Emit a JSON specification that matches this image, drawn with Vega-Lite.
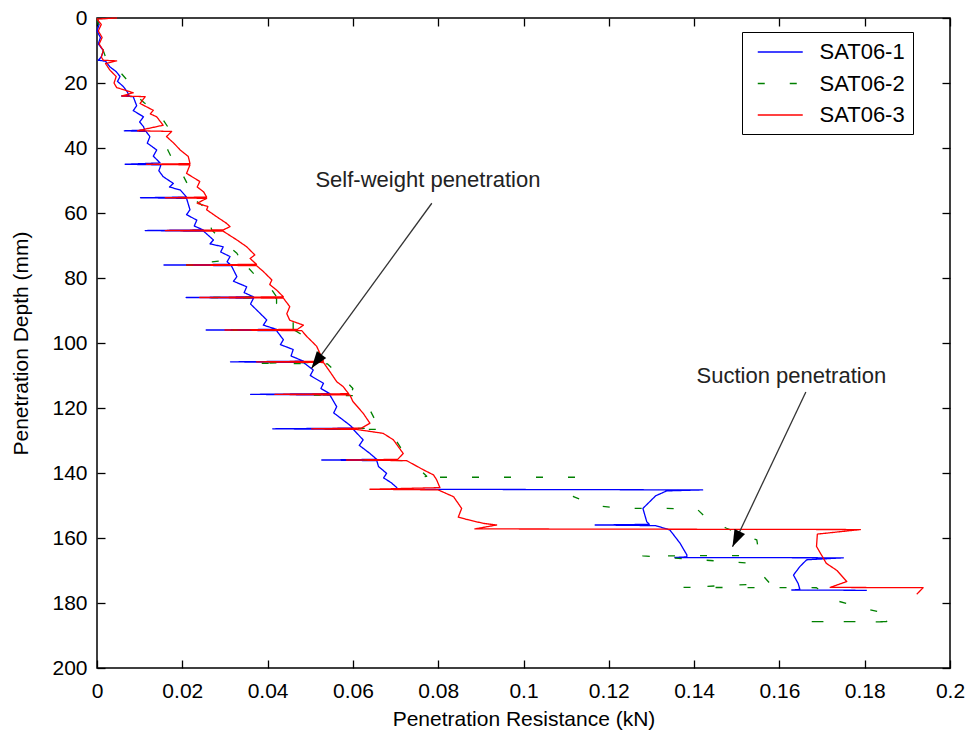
{
  "$schema": "https://vega.github.io/schema/vega-lite/v6.json",
  "width": 853,
  "height": 650,
  "autosize": "none",
  "padding": {"left": 97, "top": 18, "right": 24, "bottom": 70},
  "background": "white",
  "config": {
    "view": {"stroke": "black", "strokeWidth": 1.5},
    "font": "Liberation Sans",
    "axis": {
      "grid": false,
      "domain": false,
      "offset": -8,
      "tickColor": "black",
      "tickWidth": 1.3,
      "tickSize": 8,
      "labelFont": "Liberation Sans",
      "labelFontSize": 21,
      "labelColor": "black",
      "titleFont": "Liberation Sans",
      "titleFontSize": 21,
      "titleFontWeight": "normal",
      "titleColor": "black"
    },
    "legend": {
      "orient": "none",
      "legendX": 645,
      "legendY": 14,
      "strokeColor": "black",
      "strokeWidth": 1,
      "fillColor": "white",
      "padding": 8,
      "symbolOffset": 18.25,
      "symbolType": "M-2,0L2,0",
      "symbolSize": 506,
      "symbolStrokeWidth": 1.5,
      "symbolFillColor": "transparent",
      "labelFont": "Liberation Sans",
      "labelFontSize": 22,
      "labelColor": "black",
      "labelOffset": 27.25,
      "rowPadding": 8.5,
      "cornerRadius": 0
    }
  },
  "resolve": {"axis": {"x": "independent", "y": "independent"}},
  "layer": [
    {
      "data": {"values": [
        {"series":"SAT06-1","x":0,"d":0},{"series":"SAT06-1","x":0.0005,"d":2},{"series":"SAT06-1","x":0,"d":4},{"series":"SAT06-1","x":0.0008,"d":6},{"series":"SAT06-1","x":0.0003,"d":8},{"series":"SAT06-1","x":0.0015,"d":10},{"series":"SAT06-1","x":0.001,"d":12},{"series":"SAT06-1","x":0.0003,"d":13},{"series":"SAT06-1","x":0.002,"d":13.3},{"series":"SAT06-1","x":0.003,"d":15},{"series":"SAT06-1","x":0.0045,"d":16.5},{"series":"SAT06-1","x":0.0054,"d":18},{"series":"SAT06-1","x":0.0048,"d":19.5},{"series":"SAT06-1","x":0.0061,"d":21},{"series":"SAT06-1","x":0.007,"d":22.5},{"series":"SAT06-1","x":0.0075,"d":23.8},{"series":"SAT06-1","x":0.0058,"d":24},{"series":"SAT06-1","x":0.0085,"d":24.2},{"series":"SAT06-1","x":0.0093,"d":27},{"series":"SAT06-1","x":0.0085,"d":28.5},{"series":"SAT06-1","x":0.0109,"d":30.4},{"series":"SAT06-1","x":0.01,"d":32},{"series":"SAT06-1","x":0.0109,"d":33.4},{"series":"SAT06-1","x":0.0112,"d":34.5},{"series":"SAT06-1","x":0.0064,"d":34.7},{"series":"SAT06-1","x":0.0115,"d":34.9},{"series":"SAT06-1","x":0.0124,"d":36.5},{"series":"SAT06-1","x":0.0118,"d":38.5},{"series":"SAT06-1","x":0.014,"d":40.6},{"series":"SAT06-1","x":0.0132,"d":42.5},{"series":"SAT06-1","x":0.0148,"d":44.6},{"series":"SAT06-1","x":0.0066,"d":45},{"series":"SAT06-1","x":0.015,"d":45.2},{"series":"SAT06-1","x":0.0145,"d":47},{"series":"SAT06-1","x":0.0155,"d":48.8},{"series":"SAT06-1","x":0.0179,"d":50.9},{"series":"SAT06-1","x":0.017,"d":52},{"series":"SAT06-1","x":0.0195,"d":52.9},{"series":"SAT06-1","x":0.021,"d":55.1},{"series":"SAT06-1","x":0.0102,"d":55.3},{"series":"SAT06-1","x":0.021,"d":55.5},{"series":"SAT06-1","x":0.0218,"d":59},{"series":"SAT06-1","x":0.021,"d":60.5},{"series":"SAT06-1","x":0.0234,"d":62.2},{"series":"SAT06-1","x":0.0228,"d":64},{"series":"SAT06-1","x":0.0249,"d":65.2},{"series":"SAT06-1","x":0.0113,"d":65.4},{"series":"SAT06-1","x":0.025,"d":65.6},{"series":"SAT06-1","x":0.0273,"d":68.3},{"series":"SAT06-1","x":0.0265,"d":69.5},{"series":"SAT06-1","x":0.0296,"d":70.4},{"series":"SAT06-1","x":0.029,"d":72},{"series":"SAT06-1","x":0.0312,"d":73.4},{"series":"SAT06-1","x":0.0305,"d":75},{"series":"SAT06-1","x":0.0312,"d":75.8},{"series":"SAT06-1","x":0.0157,"d":76},{"series":"SAT06-1","x":0.0315,"d":76.2},{"series":"SAT06-1","x":0.0328,"d":79.6},{"series":"SAT06-1","x":0.032,"d":81},{"series":"SAT06-1","x":0.0351,"d":82.7},{"series":"SAT06-1","x":0.0345,"d":84.5},{"series":"SAT06-1","x":0.0367,"d":85.8},{"series":"SAT06-1","x":0.0209,"d":86},{"series":"SAT06-1","x":0.0367,"d":86.2},{"series":"SAT06-1","x":0.036,"d":88},{"series":"SAT06-1","x":0.0374,"d":89.8},{"series":"SAT06-1","x":0.0398,"d":92.9},{"series":"SAT06-1","x":0.039,"d":94.5},{"series":"SAT06-1","x":0.0421,"d":95.8},{"series":"SAT06-1","x":0.0256,"d":96},{"series":"SAT06-1","x":0.0421,"d":96.2},{"series":"SAT06-1","x":0.0437,"d":99},{"series":"SAT06-1","x":0.043,"d":100.5},{"series":"SAT06-1","x":0.046,"d":102},{"series":"SAT06-1","x":0.0455,"d":104},{"series":"SAT06-1","x":0.0484,"d":105.6},{"series":"SAT06-1","x":0.0313,"d":105.8},{"series":"SAT06-1","x":0.0484,"d":106},{"series":"SAT06-1","x":0.0507,"d":108.3},{"series":"SAT06-1","x":0.05,"d":110},{"series":"SAT06-1","x":0.0531,"d":112.4},{"series":"SAT06-1","x":0.0525,"d":114},{"series":"SAT06-1","x":0.0546,"d":115.6},{"series":"SAT06-1","x":0.036,"d":115.8},{"series":"SAT06-1","x":0.0546,"d":116},{"series":"SAT06-1","x":0.0562,"d":119.6},{"series":"SAT06-1","x":0.0555,"d":121.5},{"series":"SAT06-1","x":0.0577,"d":123.7},{"series":"SAT06-1","x":0.059,"d":125},{"series":"SAT06-1","x":0.0601,"d":126.2},{"series":"SAT06-1","x":0.0412,"d":126.4},{"series":"SAT06-1","x":0.0601,"d":126.6},{"series":"SAT06-1","x":0.0624,"d":129.8},{"series":"SAT06-1","x":0.0615,"d":131.5},{"series":"SAT06-1","x":0.064,"d":134},{"series":"SAT06-1","x":0.0656,"d":135.8},{"series":"SAT06-1","x":0.0527,"d":136},{"series":"SAT06-1","x":0.0656,"d":136.2},{"series":"SAT06-1","x":0.066,"d":138},{"series":"SAT06-1","x":0.0679,"d":140.1},{"series":"SAT06-1","x":0.0672,"d":141.5},{"series":"SAT06-1","x":0.069,"d":143},{"series":"SAT06-1","x":0.0703,"d":144.5},{"series":"SAT06-1","x":0.0703,"d":145},{"series":"SAT06-1","x":0.142,"d":145.2},{"series":"SAT06-1","x":0.1336,"d":145.5},{"series":"SAT06-1","x":0.131,"d":147},{"series":"SAT06-1","x":0.128,"d":150.9},{"series":"SAT06-1","x":0.1289,"d":155},{"series":"SAT06-1","x":0.1295,"d":155.8},{"series":"SAT06-1","x":0.1168,"d":156},{"series":"SAT06-1","x":0.131,"d":156.2},{"series":"SAT06-1","x":0.1343,"d":157.5},{"series":"SAT06-1","x":0.1367,"d":161.6},{"series":"SAT06-1","x":0.1383,"d":165.2},{"series":"SAT06-1","x":0.1383,"d":165.8},{"series":"SAT06-1","x":0.1355,"d":166},{"series":"SAT06-1","x":0.175,"d":166.1},{"series":"SAT06-1","x":0.1664,"d":166.7},{"series":"SAT06-1","x":0.1648,"d":168.8},{"series":"SAT06-1","x":0.1633,"d":171.4},{"series":"SAT06-1","x":0.1644,"d":174},{"series":"SAT06-1","x":0.1648,"d":175.8},{"series":"SAT06-1","x":0.1629,"d":176},{"series":"SAT06-1","x":0.1805,"d":176.1},

        {"series":"SAT06-2","x":0,"d":0},{"series":"SAT06-2","x":0.0005,"d":3},{"series":"SAT06-2","x":0.001,"d":6},{"series":"SAT06-2","x":0.0012,"d":9},{"series":"SAT06-2","x":0.002,"d":12},{"series":"SAT06-2","x":0.004,"d":13.5},{"series":"SAT06-2","x":0.005,"d":16},{"series":"SAT06-2","x":0.007,"d":19},{"series":"SAT06-2","x":0.008,"d":22},{"series":"SAT06-2","x":0.0095,"d":24.2},{"series":"SAT06-2","x":0.011,"d":26},{"series":"SAT06-2","x":0.013,"d":28},{"series":"SAT06-2","x":0.0148,"d":30},{"series":"SAT06-2","x":0.0166,"d":33.5},{"series":"SAT06-2","x":0.0175,"d":35},{"series":"SAT06-2","x":0.0166,"d":38},{"series":"SAT06-2","x":0.0166,"d":40.6},{"series":"SAT06-2","x":0.0175,"d":43},{"series":"SAT06-2","x":0.0183,"d":45.6},{"series":"SAT06-2","x":0.02,"d":48},{"series":"SAT06-2","x":0.0213,"d":51.3},{"series":"SAT06-2","x":0.0226,"d":53},{"series":"SAT06-2","x":0.022,"d":55.3},{"series":"SAT06-2","x":0.024,"d":57},{"series":"SAT06-2","x":0.026,"d":59},{"series":"SAT06-2","x":0.0262,"d":62},{"series":"SAT06-2","x":0.0269,"d":65.2},{"series":"SAT06-2","x":0.029,"d":68},{"series":"SAT06-2","x":0.0328,"d":72.4},{"series":"SAT06-2","x":0.0335,"d":74},{"series":"SAT06-2","x":0.021,"d":76},{"series":"SAT06-2","x":0.035,"d":76.2},{"series":"SAT06-2","x":0.0374,"d":79.6},{"series":"SAT06-2","x":0.041,"d":83.7},{"series":"SAT06-2","x":0.0421,"d":85.8},{"series":"SAT06-2","x":0.0241,"d":86},{"series":"SAT06-2","x":0.0421,"d":86.2},{"series":"SAT06-2","x":0.0421,"d":87.8},{"series":"SAT06-2","x":0.044,"d":90},{"series":"SAT06-2","x":0.046,"d":93.4},{"series":"SAT06-2","x":0.046,"d":95.8},{"series":"SAT06-2","x":0.032,"d":96},{"series":"SAT06-2","x":0.0465,"d":96.2},{"series":"SAT06-2","x":0.0499,"d":99},{"series":"SAT06-2","x":0.052,"d":103},{"series":"SAT06-2","x":0.0538,"d":106},{"series":"SAT06-2","x":0.0366,"d":106.2},{"series":"SAT06-2","x":0.054,"d":106.4},{"series":"SAT06-2","x":0.0581,"d":111.4},{"series":"SAT06-2","x":0.06,"d":114},{"series":"SAT06-2","x":0.0595,"d":115.8},{"series":"SAT06-2","x":0.049,"d":116},{"series":"SAT06-2","x":0.0605,"d":116.2},{"series":"SAT06-2","x":0.0636,"d":119.6},{"series":"SAT06-2","x":0.0656,"d":124.7},{"series":"SAT06-2","x":0.066,"d":126.2},{"series":"SAT06-2","x":0.052,"d":126.4},{"series":"SAT06-2","x":0.066,"d":126.6},{"series":"SAT06-2","x":0.0703,"d":130.4},{"series":"SAT06-2","x":0.0718,"d":133.4},{"series":"SAT06-2","x":0.072,"d":135.8},{"series":"SAT06-2","x":0.062,"d":136},{"series":"SAT06-2","x":0.073,"d":136.2},{"series":"SAT06-2","x":0.0757,"d":139},{"series":"SAT06-2","x":0.0773,"d":141},{"series":"SAT06-2","x":0.0757,"d":141.3},{"series":"SAT06-2","x":0.1133,"d":141.3},{"series":"SAT06-2","x":0.1125,"d":144},{"series":"SAT06-2","x":0.1117,"d":147.3},{"series":"SAT06-2","x":0.1148,"d":148.8},{"series":"SAT06-2","x":0.1172,"d":150.1},{"series":"SAT06-2","x":0.1233,"d":150.9},{"series":"SAT06-2","x":0.1328,"d":150.9},{"series":"SAT06-2","x":0.1406,"d":151},{"series":"SAT06-2","x":0.143,"d":154},{"series":"SAT06-2","x":0.1476,"d":157},{"series":"SAT06-2","x":0.1547,"d":160.6},{"series":"SAT06-2","x":0.155,"d":163},{"series":"SAT06-2","x":0.1525,"d":165.4},{"series":"SAT06-2","x":0.128,"d":165.5},{"series":"SAT06-2","x":0.1535,"d":167.8},{"series":"SAT06-2","x":0.1578,"d":174},{"series":"SAT06-2","x":0.1374,"d":175.2},{"series":"SAT06-2","x":0.1687,"d":175.3},{"series":"SAT06-2","x":0.1726,"d":179},{"series":"SAT06-2","x":0.1797,"d":181.6},{"series":"SAT06-2","x":0.1867,"d":183.7},{"series":"SAT06-2","x":0.1851,"d":185.7},{"series":"SAT06-2","x":0.1652,"d":185.7},{"series":"SAT06-2","x":0.1851,"d":185.8},

        {"series":"SAT06-3","x":0.0047,"d":0},{"series":"SAT06-3","x":0,"d":0.3},{"series":"SAT06-3","x":0.001,"d":2},{"series":"SAT06-3","x":0.0003,"d":4},{"series":"SAT06-3","x":0.0012,"d":6},{"series":"SAT06-3","x":0.0005,"d":8},{"series":"SAT06-3","x":0.0015,"d":10},{"series":"SAT06-3","x":0.001,"d":12},{"series":"SAT06-3","x":0.0015,"d":13},{"series":"SAT06-3","x":0.0046,"d":13.2},{"series":"SAT06-3","x":0.002,"d":14},{"series":"SAT06-3","x":0.003,"d":16},{"series":"SAT06-3","x":0.0045,"d":18},{"series":"SAT06-3","x":0.004,"d":20},{"series":"SAT06-3","x":0.0046,"d":21.4},{"series":"SAT06-3","x":0.0085,"d":23},{"series":"SAT06-3","x":0.0058,"d":24},{"series":"SAT06-3","x":0.0113,"d":24.2},{"series":"SAT06-3","x":0.0101,"d":26.3},{"series":"SAT06-3","x":0.0132,"d":28.4},{"series":"SAT06-3","x":0.0125,"d":29.5},{"series":"SAT06-3","x":0.014,"d":30.4},{"series":"SAT06-3","x":0.0155,"d":33},{"series":"SAT06-3","x":0.0095,"d":34.7},{"series":"SAT06-3","x":0.0175,"d":34.9},{"series":"SAT06-3","x":0.0163,"d":36.5},{"series":"SAT06-3","x":0.018,"d":38.5},{"series":"SAT06-3","x":0.0195,"d":40.6},{"series":"SAT06-3","x":0.0214,"d":42.6},{"series":"SAT06-3","x":0.0218,"d":44.8},{"series":"SAT06-3","x":0.0116,"d":45},{"series":"SAT06-3","x":0.0218,"d":45.2},{"series":"SAT06-3","x":0.021,"d":47.8},{"series":"SAT06-3","x":0.0241,"d":50.3},{"series":"SAT06-3","x":0.0235,"d":52},{"series":"SAT06-3","x":0.025,"d":53.5},{"series":"SAT06-3","x":0.0257,"d":55.1},{"series":"SAT06-3","x":0.016,"d":55.3},{"series":"SAT06-3","x":0.0257,"d":55.5},{"series":"SAT06-3","x":0.0235,"d":57},{"series":"SAT06-3","x":0.026,"d":58},{"series":"SAT06-3","x":0.0257,"d":59},{"series":"SAT06-3","x":0.028,"d":61.1},{"series":"SAT06-3","x":0.0304,"d":63.2},{"series":"SAT06-3","x":0.0312,"d":64.2},{"series":"SAT06-3","x":0.0296,"d":65.2},{"series":"SAT06-3","x":0.016,"d":65.4},{"series":"SAT06-3","x":0.0296,"d":65.6},{"series":"SAT06-3","x":0.0328,"d":68.3},{"series":"SAT06-3","x":0.0351,"d":70.4},{"series":"SAT06-3","x":0.037,"d":72.9},{"series":"SAT06-3","x":0.0359,"d":74},{"series":"SAT06-3","x":0.0374,"d":75.8},{"series":"SAT06-3","x":0.021,"d":76},{"series":"SAT06-3","x":0.0374,"d":76.2},{"series":"SAT06-3","x":0.039,"d":78},{"series":"SAT06-3","x":0.041,"d":80.6},{"series":"SAT06-3","x":0.0405,"d":82},{"series":"SAT06-3","x":0.0421,"d":83.7},{"series":"SAT06-3","x":0.0437,"d":85.8},{"series":"SAT06-3","x":0.0241,"d":86},{"series":"SAT06-3","x":0.0437,"d":86.2},{"series":"SAT06-3","x":0.0452,"d":88.8},{"series":"SAT06-3","x":0.0445,"d":91},{"series":"SAT06-3","x":0.0452,"d":93},{"series":"SAT06-3","x":0.0484,"d":94.5},{"series":"SAT06-3","x":0.047,"d":95.8},{"series":"SAT06-3","x":0.03,"d":96},{"series":"SAT06-3","x":0.048,"d":96.2},{"series":"SAT06-3","x":0.0492,"d":98},{"series":"SAT06-3","x":0.0515,"d":101},{"series":"SAT06-3","x":0.0531,"d":105.6},{"series":"SAT06-3","x":0.0374,"d":105.8},{"series":"SAT06-3","x":0.0531,"d":106},{"series":"SAT06-3","x":0.0546,"d":108.8},{"series":"SAT06-3","x":0.0562,"d":111.9},{"series":"SAT06-3","x":0.0577,"d":113.4},{"series":"SAT06-3","x":0.059,"d":115.6},{"series":"SAT06-3","x":0.0417,"d":115.8},{"series":"SAT06-3","x":0.0593,"d":116},{"series":"SAT06-3","x":0.06,"d":118},{"series":"SAT06-3","x":0.0624,"d":121.6},{"series":"SAT06-3","x":0.064,"d":124.7},{"series":"SAT06-3","x":0.062,"d":126.2},{"series":"SAT06-3","x":0.0503,"d":126.4},{"series":"SAT06-3","x":0.0609,"d":126.6},{"series":"SAT06-3","x":0.0671,"d":127.8},{"series":"SAT06-3","x":0.0695,"d":129.8},{"series":"SAT06-3","x":0.0718,"d":134},{"series":"SAT06-3","x":0.0705,"d":135.8},{"series":"SAT06-3","x":0.0585,"d":136},{"series":"SAT06-3","x":0.0726,"d":136.2},{"series":"SAT06-3","x":0.0765,"d":139},{"series":"SAT06-3","x":0.0789,"d":140.6},{"series":"SAT06-3","x":0.0796,"d":142},{"series":"SAT06-3","x":0.0804,"d":144.5},{"series":"SAT06-3","x":0.064,"d":145},{"series":"SAT06-3","x":0.08,"d":145.2},{"series":"SAT06-3","x":0.0836,"d":147.3},{"series":"SAT06-3","x":0.0855,"d":150.9},{"series":"SAT06-3","x":0.0847,"d":153.6},{"series":"SAT06-3","x":0.0867,"d":154.3},{"series":"SAT06-3","x":0.0906,"d":155.5},{"series":"SAT06-3","x":0.0937,"d":156},{"series":"SAT06-3","x":0.0886,"d":157.2},{"series":"SAT06-3","x":0.179,"d":157.4},{"series":"SAT06-3","x":0.1689,"d":158.8},{"series":"SAT06-3","x":0.1687,"d":162.6},{"series":"SAT06-3","x":0.171,"d":167.8},{"series":"SAT06-3","x":0.1735,"d":170},{"series":"SAT06-3","x":0.1758,"d":173.4},{"series":"SAT06-3","x":0.1719,"d":175.2},{"series":"SAT06-3","x":0.1937,"d":175.3},{"series":"SAT06-3","x":0.1922,"d":177.3}
      ]},
      "mark": {"type": "line", "strokeWidth": 1.3, "strokeJoin": "round"},
      "encoding": {
        "x": {
          "field": "x", "type": "quantitative",
          "scale": {"domain": [0, 0.2], "nice": false, "zero": false},
          "axis": {
            "orient": "bottom",
            "values": [0, 0.02, 0.04, 0.06, 0.08, 0.1, 0.12, 0.14, 0.16, 0.18, 0.2],
            "format": "~g",
            "labelPadding": 12,
            "labelFlush": false,
            "title": "Penetration Resistance (kN)",
            "titleY": 65,
            "titleBaseline": "alphabetic"
          }
        },
        "y": {
          "field": "d", "type": "quantitative",
          "scale": {"domain": [0, 200], "reverse": true, "nice": false, "zero": false},
          "axis": {
            "orient": "left",
            "values": [0, 20, 40, 60, 80, 100, 120, 140, 160, 180, 200],
            "format": "d",
            "labelPadding": 10,
            "labelFlush": false,
            "title": "Penetration Depth (mm)",
            "titleAngle": -90,
            "titleX": -84,
            "titleY": 325,
            "titleAlign": "center",
            "titleBaseline": "middle"
          }
        },
        "color": {
          "field": "series", "type": "nominal",
          "scale": {"domain": ["SAT06-1", "SAT06-2", "SAT06-3"], "range": ["#0000ff", "#008000", "#ff0000"]},
          "legend": {"title": null}
        },
        "strokeDash": {
          "field": "series", "type": "nominal",
          "scale": {"domain": ["SAT06-1", "SAT06-2", "SAT06-3"], "range": [[1, 0], [7, 25], [1, 0]]},
          "legend": {"title": null}
        },
        "order": {"value": null}
      }
    },
    {
      "data": {"values": [
        {"x": 0.0785, "d": 57, "x2": 0.0503, "d2": 107.8},
        {"x": 0.1662, "d": 115.1, "x2": 0.149, "d2": 162.7}
      ]},
      "mark": {"type": "rule", "color": "#333333", "strokeWidth": 1.3},
      "encoding": {
        "x": {"field": "x", "type": "quantitative", "axis": null},
        "y": {"field": "d", "type": "quantitative", "axis": null},
        "x2": {"field": "x2"},
        "y2": {"field": "d2"}
      }
    },
    {
      "data": {"values": [{"x": 0.0503, "d": 107.8}]},
      "mark": {"type": "point", "filled": true, "color": "black", "opacity": 1, "size": 450, "angle": 216, "shape": "M0,0L0.55,1.6L-0.55,1.6Z"},
      "encoding": {
        "x": {"field": "x", "type": "quantitative", "axis": null},
        "y": {"field": "d", "type": "quantitative", "axis": null}
      }
    },
    {
      "data": {"values": [{"x": 0.149, "d": 162.7}]},
      "mark": {"type": "point", "filled": true, "color": "black", "opacity": 1, "size": 450, "angle": 205.4, "shape": "M0,0L0.55,1.6L-0.55,1.6Z"},
      "encoding": {
        "x": {"field": "x", "type": "quantitative", "axis": null},
        "y": {"field": "d", "type": "quantitative", "axis": null}
      }
    },
    {
      "data": {"values": [
        {"label": "Self-weight penetration", "x": 0.0776, "d": 49.8},
        {"label": "Suction penetration", "x": 0.1628, "d": 110.2}
      ]},
      "mark": {"type": "text", "font": "Liberation Sans", "fontSize": 22, "align": "center", "baseline": "middle", "color": "#222222"},
      "encoding": {
        "text": {"field": "label"},
        "x": {
          "field": "x", "type": "quantitative",
          "axis": {"orient": "top", "values": [0, 0.02, 0.04, 0.06, 0.08, 0.1, 0.12, 0.14, 0.16, 0.18, 0.2], "labels": false, "title": null}
        },
        "y": {
          "field": "d", "type": "quantitative",
          "axis": {"orient": "right", "values": [0, 20, 40, 60, 80, 100, 120, 140, 160, 180, 200], "labels": false, "title": null}
        }
      }
    }
  ]
}
